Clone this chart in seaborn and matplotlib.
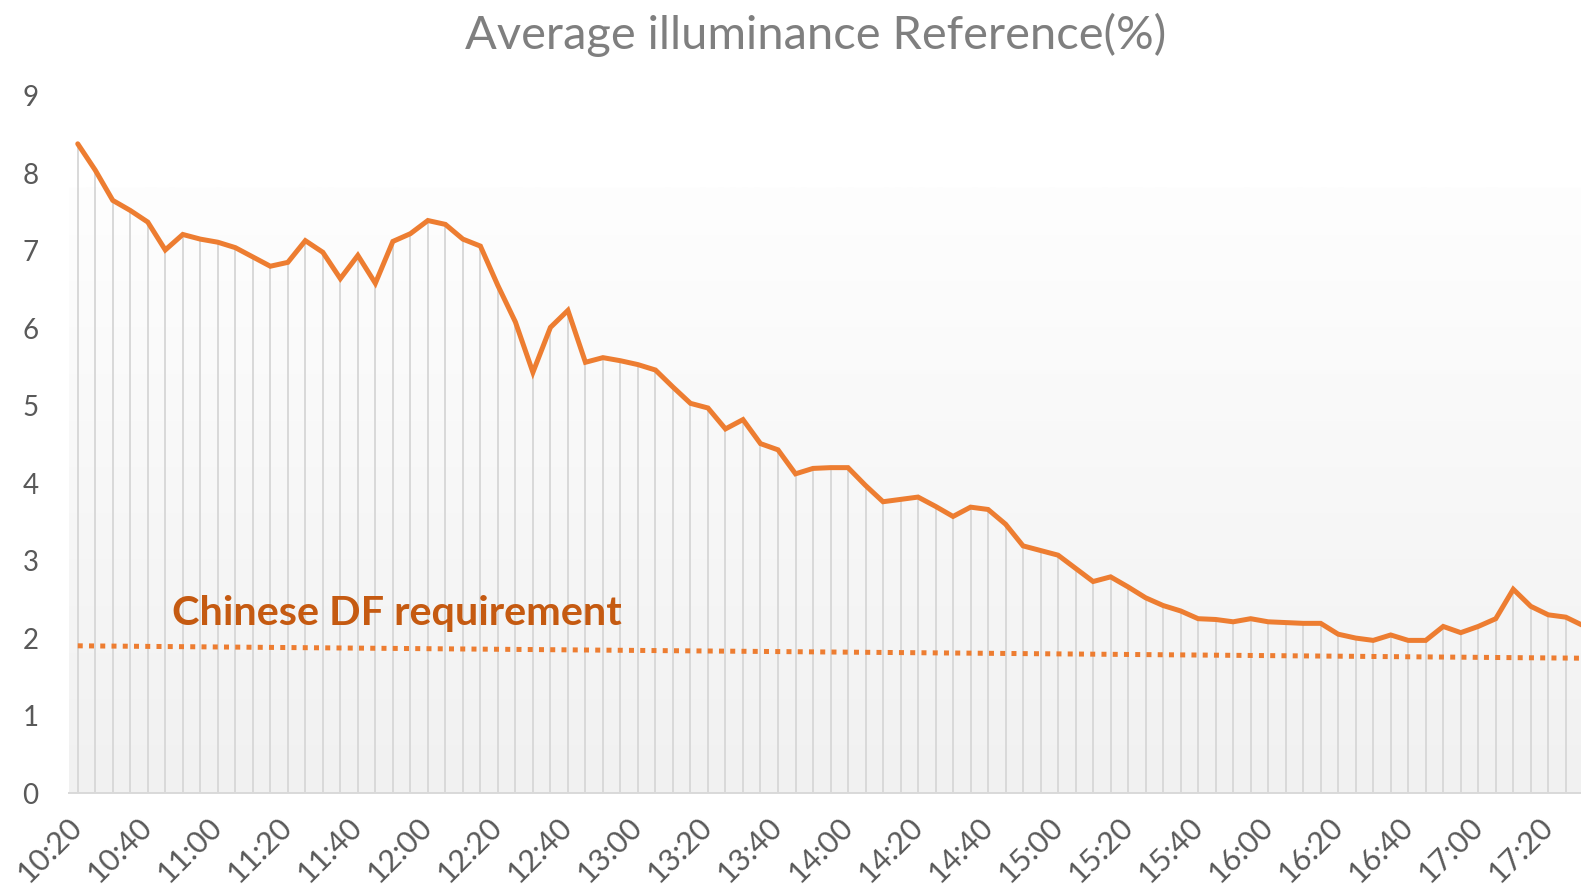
import matplotlib
matplotlib.use("Agg")
import matplotlib.pyplot as plt
from matplotlib.colors import LinearSegmentedColormap
import seaborn as sns
import numpy as np
import pandas as pd

# Average illuminance every 5 minutes starting at 10:20
times = pd.date_range("10:20", periods=87, freq="5min").strftime("%H:%M").tolist()
illuminance = [
    8.38, 8.04, 7.65, 7.52, 7.37, 7.01, 7.21, 7.15, 7.11, 7.04,
    6.92, 6.80, 6.85, 7.13, 6.98, 6.64, 6.94, 6.58, 7.12, 7.22,
    7.39, 7.34, 7.15, 7.06, 6.55, 6.08, 5.43, 6.01, 6.23, 5.56,
    5.62, 5.58, 5.53, 5.46, 5.24, 5.03, 4.97, 4.70, 4.82, 4.51,
    4.43, 4.12, 4.19, 4.20, 4.20, 3.97, 3.76, 3.79, 3.82, 3.70,
    3.57, 3.69, 3.66, 3.47, 3.19, 3.13, 3.07, 2.90, 2.73, 2.79,
    2.66, 2.52, 2.42, 2.35, 2.25, 2.24, 2.21, 2.25, 2.21, 2.20,
    2.19, 2.19, 2.05, 2.00, 1.97, 2.04, 1.97, 1.97, 2.15, 2.07,
    2.15, 2.25, 2.63, 2.41, 2.30, 2.27, 2.16,
]
# DF requirement line (start / end)
df_times = ["10:20", "17:30"]
df_values = [1.90, 1.74]
y_ticks = [0, 1, 2, 3, 4, 5, 6, 7, 8, 9]

ORANGE = "#ED7D31"
DARK_ORANGE = "#C55A11"
GRID = "#d9d9d9"

sns.set_style("white")
plt.rcParams['font.family'] = ['Lato', 'DejaVu Sans']

df = pd.DataFrame({"time": times, "value": illuminance})
df["pos"] = np.arange(len(df))
pos_of = {t: i for i, t in enumerate(times)}

fig = plt.figure(figsize=(15.81, 8.92), dpi=100)
ax = fig.add_axes([69 / 1581, 1 - 793 / 892, 1 - 69 / 1581, (793 - 95.8) / 892])
ax.set_xlim(-0.5, 85.87)
ax.set_ylim(0, 9)

# plot area gradient fill (white at top to light gray)
cmap = LinearSegmentedColormap.from_list("bg", ["#f1f1f1", "#fefefe"])
grad = np.linspace(0, 1, 256).reshape(-1, 1)
ax.imshow(grad, aspect="auto", cmap=cmap, origin="lower",
          extent=[-0.5, 85.87, 0, 7.82], zorder=0)

# drop lines
ax.vlines(df["pos"], 0, df["value"], color=GRID, lw=1.4, zorder=1)

sns.lineplot(data=df, x="pos", y="value", color=ORANGE, lw=3.6, ax=ax, zorder=3,
             solid_joinstyle="miter")

ax.plot([pos_of[df_times[0]], 86], df_values, color=ORANGE, lw=3.6,
        dashes=(1.0, 1.25), dash_capstyle="butt", zorder=2)

ax.text(5.39, 2.17, "Chinese DF requirement", color=DARK_ORANGE, fontsize=29.8,
        fontweight="bold", va="baseline", ha="left", zorder=4)

for s in ["top", "right", "left"]:
    ax.spines[s].set_visible(False)
ax.spines["bottom"].set_color(GRID)
ax.spines["bottom"].set_linewidth(1.4)

ax.set_yticks(y_ticks)
ax.set_yticklabels([str(v) for v in y_ticks])
ax.set_xticks(df["pos"][::4])
ax.set_xticklabels(df["time"][::4], rotation=45, ha="right", va="center",
                   rotation_mode="anchor")
ax.tick_params(axis="y", length=0, pad=22, labelsize=20, labelcolor="#595959")
ax.tick_params(axis="x", length=0, pad=21, labelsize=22, labelcolor="#595959")
ax.set_xlabel("")
ax.set_ylabel("")
ax.grid(False)

fig.text(816 / 1581, 1 - 49 / 892, "Average illuminance Reference(%)",
         ha="center", va="baseline", fontsize=33.8, color="#7f7f7f")

fig.savefig("out.png", dpi=100)
